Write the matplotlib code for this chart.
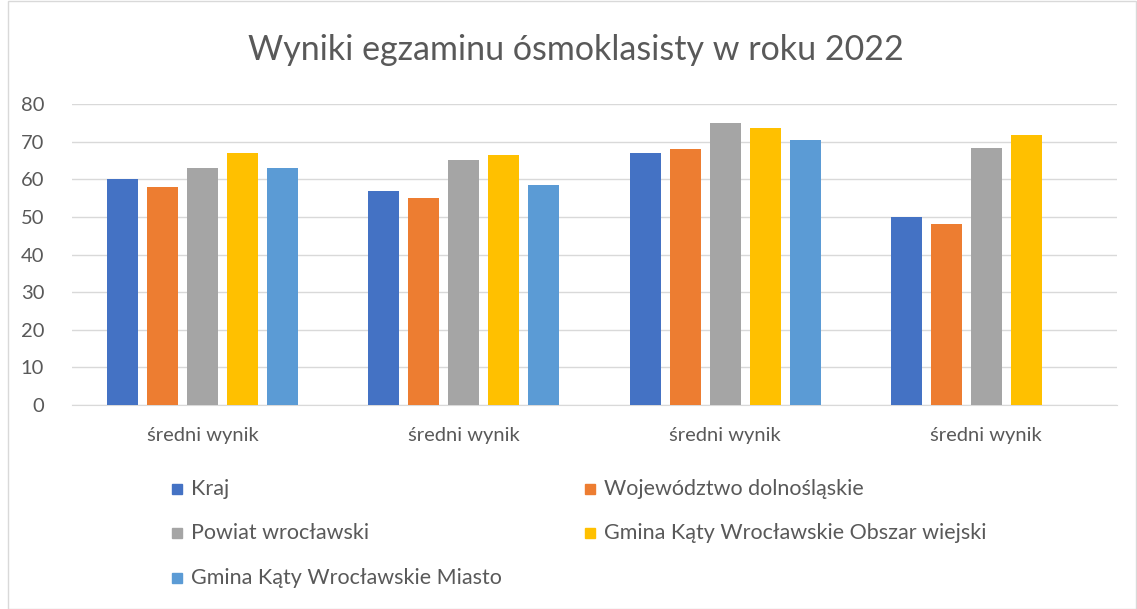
import numpy as np
import matplotlib
matplotlib.use("Agg")
import matplotlib.pyplot as plt
from matplotlib.patches import Rectangle

title = "Wyniki egzaminu ósmoklasisty w roku 2022"
categories = ["średni wynik", "średni wynik", "średni wynik", "średni wynik"]
series_names = ["Kraj", "Województwo dolnośląskie", "Powiat wrocławski",
                "Gmina Kąty Wrocławskie Obszar wiejski", "Gmina Kąty Wrocławskie Miasto"]
kraj = [60, 57, 67, 50]
wojewodztwo = [58, 55, 68, 48]
powiat = [63, 65, 75, 68.3]
gmina_wies = [67, 66.5, 73.5, 71.8]
gmina_miasto = [63, 58.4, 70.4, np.nan]
values = [kraj, wojewodztwo, powiat, gmina_wies, gmina_miasto]
colors = ["#4472C4", "#ED7D31", "#A5A5A5", "#FFC000", "#5B9BD5"]
yticks = [0, 10, 20, 30, 40, 50, 60, 70, 80]

plt.rcParams['font.family'] = ['Lato', 'DejaVu Sans']
W, H = 1137, 609
fig = plt.figure(figsize=(W/100, H/100), dpi=100)
fig.patches.append(Rectangle((8/W, 0), 1 - 9/W, 1 - 1/H, transform=fig.transFigure,
                             fill=False, edgecolor="#d9d9d9", lw=1))

ax = fig.add_axes([72/W, 1 - 405/H, (1117-72)/W, (405-104)/H])
x = np.arange(len(categories))
bw = 31/261
step = 40/261
for i, (vals, c) in enumerate(zip(values, colors)):
    ax.bar(x + (i - 2) * step, vals, width=bw, color=c, zorder=3)

ax.set_xlim(-0.5, len(categories) - 0.5)
ax.set_ylim(0, 80)
ax.set_yticks(yticks)
ax.set_yticklabels([str(t) for t in yticks], fontsize=14.5, color="#595959")
ax.set_xticks(x)
ax.set_xticklabels(categories, fontsize=14.5, color="#595959")
ax.tick_params(length=0, axis='y', pad=20)
ax.tick_params(length=0, axis='x', pad=16)
ax.grid(axis='y', color="#d9d9d9", lw=1, zorder=0)
for s in ["top", "right", "left"]:
    ax.spines[s].set_visible(False)
ax.spines["bottom"].set_color("#d9d9d9")

fig.text(576/W, 1 - 50/H, title, ha="center", va="center", fontsize=24.5, color="#595959")

col_x = [172, 585]
row_y = [489, 533, 578]
for i, (name, c) in enumerate(zip(series_names, colors)):
    cx = col_x[i % 2]
    cy = row_y[i // 2]
    fig.patches.append(Rectangle((cx/W, 1 - (cy+5)/H), 10/W, 10/H, transform=fig.transFigure,
                                 color=c))
    fig.text((cx + 19)/W, 1 - cy/H, name, ha="left", va="center", fontsize=15.5, color="#595959")

fig.savefig("out.png", dpi=100)
